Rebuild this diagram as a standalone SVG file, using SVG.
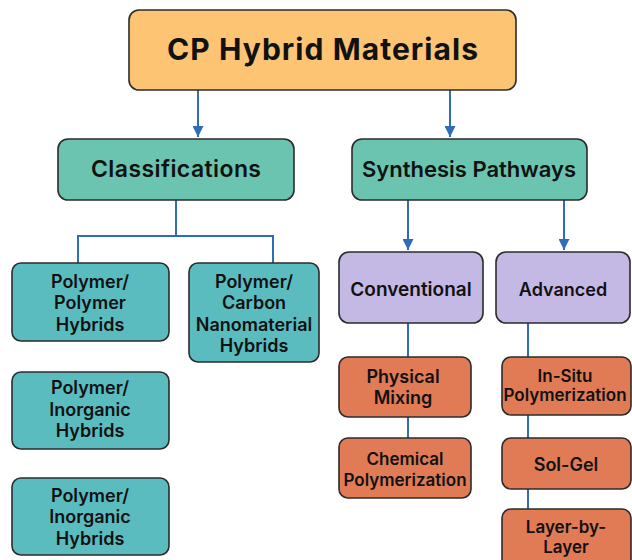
<svg xmlns="http://www.w3.org/2000/svg" width="632" height="560" viewBox="0 0 632 560">
<defs>
<style>
.box{stroke:#2b2b2b;stroke-width:1.6}
.root{fill:#FCC473}
.teal{fill:#6AC4B0}
.cls{fill:#5BBCC0}
.purp{fill:#C4B8E4}
.org{fill:#E07B56}
text{font-family:Inter,"Noto Sans","Liberation Sans",sans-serif;font-weight:600;fill:#111;text-anchor:middle}
.t1{font-size:30px;font-weight:700}
.t2{font-size:22px}
.t3{font-size:18px}
.t4{font-size:17px}
.conn{stroke:#2F6DB8;stroke-width:2;fill:none}
</style>
<marker id="ah2" viewBox="0 0 10 10" refX="10" refY="5" markerWidth="5.5" markerHeight="5.5" orient="auto"><path d="M0,0 L10,5 L0,10 z" fill="#2F6DB8"/></marker>
</defs>
<rect width="632" height="560" fill="#ffffff"/>
<g id="connectors">
<path class="conn" d="M198,90 V137" marker-end="url(#ah2)"/>
<path class="conn" d="M450,90 V137" marker-end="url(#ah2)"/>
<path class="conn" d="M176,200 V236 M78,263 V236 H273 V263"/>
<path class="conn" d="M408,200 V250" marker-end="url(#ah2)"/>
<path class="conn" d="M564,200 V250" marker-end="url(#ah2)"/>
<path class="conn" d="M408,323 V357 M408,417 V438"/>
<path class="conn" d="M528,323 V357 M528,415 V438 M528,489 V509"/>
</g>
<g id="root"><rect class="box root" x="129" y="10" width="387" height="80" rx="10"/><text class="t1" x="322.5" y="60" textLength="311">CP Hybrid Materials</text></g>
<g id="classifications"><rect class="box teal" x="58" y="139" width="236" height="61" rx="10"/><text class="t2" x="176" y="177" style="font-size:23px" textLength="170">Classifications</text></g>
<g id="synthesis"><rect class="box teal" x="352" y="139" width="235" height="61" rx="10"/><text class="t2" x="469" y="177">Synthesis Pathways</text></g>
<g id="poly-poly"><rect class="box cls" x="12" y="263" width="157" height="78" rx="9"/><text class="t3" x="90" y="288">Polymer/</text><text class="t3" x="90" y="309">Polymer</text><text class="t3" x="90" y="331">Hybrids</text></g>
<g id="poly-carbon"><rect class="box cls" x="189" y="263" width="130" height="99" rx="9"/><text class="t3" x="254" y="288">Polymer/</text><text class="t3" x="254" y="309">Carbon</text><text class="t3" x="254" y="331">Nanomaterial</text><text class="t3" x="254" y="352">Hybrids</text></g>
<g id="poly-inorg-1"><rect class="box cls" x="12" y="372" width="157" height="77" rx="9"/><text class="t3" x="90" y="394">Polymer/</text><text class="t3" x="90" y="416">Inorganic</text><text class="t3" x="90" y="437">Hybrids</text></g>
<g id="poly-inorg-2"><rect class="box cls" x="12" y="478" width="157" height="77" rx="9"/><text class="t3" x="90" y="502">Polymer/</text><text class="t3" x="90" y="523">Inorganic</text><text class="t3" x="90" y="545">Hybrids</text></g>
<g id="conventional"><rect class="box purp" x="339" y="252" width="144" height="71" rx="10"/><text class="t3" x="411" y="296" style="font-size:19px">Conventional</text></g>
<g id="advanced"><rect class="box purp" x="496" y="252" width="134" height="71" rx="10"/><text class="t3" x="563" y="296">Advanced</text></g>
<g id="physical"><rect class="box org" x="339" y="357" width="132" height="60" rx="9"/><text class="t3" x="403" y="383">Physical</text><text class="t3" x="403" y="404">Mixing</text></g>
<g id="chemical"><rect class="box org" x="339" y="438" width="132" height="60" rx="9"/><text class="t4" x="405" y="465">Chemical</text><text class="t4" x="405" y="486">Polymerization</text></g>
<g id="insitu"><rect class="box org" x="502" y="357" width="129" height="58" rx="9"/><text class="t4" x="565" y="382">In-Situ</text><text class="t4" x="565" y="401">Polymerization</text></g>
<g id="solgel"><rect class="box org" x="502" y="438" width="129" height="51" rx="9"/><text class="t3" x="566" y="471">Sol-Gel</text></g>
<g id="lbl"><rect class="box org" x="502" y="509" width="129" height="60" rx="9"/><text class="t4" x="566" y="533">Layer-by-</text><text class="t4" x="566" y="553">Layer</text></g>
</svg>
